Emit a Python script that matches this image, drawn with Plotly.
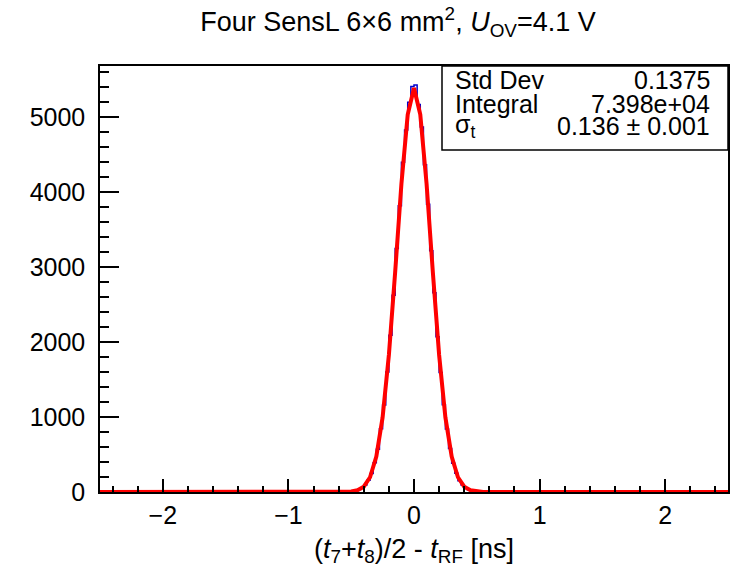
import plotly.graph_objects as go

# ---------------- data ----------------
x_min, x_max = -2.5, 2.5
bin_width = 0.025
# histogram counts for the bins from -0.6 to +0.6 (48 bins); all other bins are empty
hist_first_edge = -0.6
hist_counts = [0, 1, 2, 4, 9, 16, 32, 55, 92, 156, 246, 390, 572, 845, 1162, 1600,
               2090, 2625, 3250, 3820, 4400, 4830, 5200, 5410,
               5430, 5170, 4870, 4365, 3840, 3220, 2660, 2070, 1595, 1165, 840, 580,
               382, 250, 150, 95, 53, 30, 18, 8, 4, 2, 1, 0]

# Gaussian fit curve as drawn (sampled points)
fit_x = [-2.5, -0.6, -0.55, -0.5, -0.45, -0.4, -0.35, -0.3, -0.25, -0.2, -0.15, -0.1, -0.05,
         0.0, 0.05, 0.1, 0.15, 0.2, 0.25, 0.3, 0.35, 0.4, 0.45, 0.5, 0.55, 0.6, 2.5]
fit_y = [0, 0.3, 1.6, 6, 23, 71, 197, 473, 995, 1828, 2934, 4114, 5037,
         5390, 5037, 4114, 2934, 1828, 995, 473, 197, 71, 23, 6, 1.6, 0.3, 0]

x_tickvals = [-2, -1, 0, 1, 2]
x_ticktext = ["\u22122", "\u22121", "0", "1", "2"]
y_tickvals = [0, 1000, 2000, 3000, 4000, 5000]

stats_labels = ["Std Dev", "Integral", "\u03c3<sub>t</sub>"]
stats_values = ["0.1375", "7.398e+04", "0.136 \u00b1 0.001"]

# ---------------- build histogram steps ----------------
n_bins = int(round((x_max - x_min) / bin_width))
counts = [0.0] * n_bins
start = int(round((hist_first_edge - x_min) / bin_width))
for i, c in enumerate(hist_counts):
    counts[start + i] = c
edges = [x_min + i * bin_width for i in range(n_bins + 1)]
hx = edges
hy = counts + [counts[-1]]

FONT = "Liberation Sans, Arial, sans-serif"
TXT = "#000000"

fig = go.Figure()
fig.add_trace(go.Scatter(x=hx, y=hy, mode="lines", line=dict(color="#0000cc", width=1.5, shape="hv"),
                         showlegend=False, hoverinfo="skip"))
fig.add_trace(go.Scatter(x=fit_x, y=fit_y, mode="lines", line=dict(color="#ff0000", width=4),
                         showlegend=False))

fig.update_layout(
    width=737, height=569,
    margin=dict(l=100, r=9, t=66, b=77),
    paper_bgcolor="white", plot_bgcolor="white",
    font=dict(family=FONT, size=25, color=TXT),
    title=dict(text="Four SensL 6\u00d76 mm<sup>2</sup>, <i>U</i><sub>OV</sub>=4.1 V",
               x=398 / 737, xanchor="center", xref="container",
               y=1 - 22 / 569, yanchor="middle", yref="container",
               font=dict(family=FONT, size=27, color=TXT)),
    xaxis=dict(range=[x_min, x_max], showgrid=False, zeroline=False, automargin=False,
               showline=True, linecolor="black", linewidth=1.5, mirror=True,
               ticks="inside", ticklen=13, tickwidth=1.5, tickcolor="black",
               tickvals=x_tickvals, ticktext=x_ticktext,
               minor=dict(ticks="inside", ticklen=6, dtick=0.2, tick0=0, tickcolor="black", tickwidth=1.5),
               tickfont=dict(size=25), ticklabelstandoff=0,
               title=dict(text="(<i>t</i><sub>7</sub>+<i>t</i><sub>8</sub>)/2 - <i>t</i><sub>RF</sub> [ns]",
                          font=dict(size=27), standoff=11)),
    yaxis=dict(range=[0, 5684], showgrid=False, zeroline=False, automargin=False,
               showline=True, linecolor="black", linewidth=1.5, mirror=True,
               ticks="inside", ticklen=19, tickwidth=1.5, tickcolor="black",
               tickvals=y_tickvals,
               minor=dict(ticks="inside", ticklen=9, dtick=200, tick0=0, tickcolor="black", tickwidth=1.5),
               tickfont=dict(size=25), ticklabelstandoff=8),
)

# stats box
bx0 = (442 - 100) / 628
by0 = (492 - 150) / 426
fig.add_shape(type="rect", xref="paper", yref="paper", x0=bx0, x1=1.0, y0=by0, y1=1.0,
              line=dict(color="black", width=1.5), fillcolor="white", layer="above")
row_y = [80, 104, 126]
for lab, val, ry in zip(stats_labels, stats_values, row_y):
    yp = (492 - ry) / 426
    fig.add_annotation(xref="paper", yref="paper", x=(453 - 100) / 628, y=yp, text=lab,
                       showarrow=False, xanchor="left", yanchor="middle",
                       font=dict(family=FONT, size=25, color=TXT))
    fig.add_annotation(xref="paper", yref="paper", x=(712 - 100) / 628, y=yp, text=val,
                       showarrow=False, xanchor="right", yanchor="middle",
                       font=dict(family=FONT, size=25, color=TXT))

fig.write_html("out.html", config={"displayModeBar": False},
               post_script="document.body.style.margin='0';")
